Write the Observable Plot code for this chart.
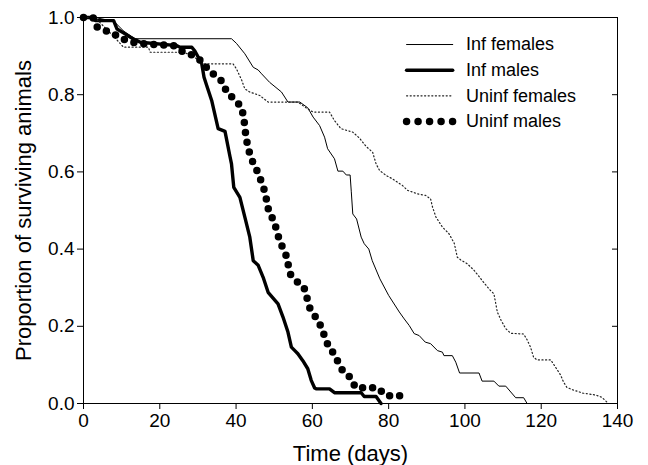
<!DOCTYPE html>
<html>
<head>
<meta charset="utf-8">
<script src="https://cdn.jsdelivr.net/npm/d3@7"></script>
<script src="https://cdn.jsdelivr.net/npm/@observablehq/plot@0.6"></script>
<style>
  html, body { margin: 0; padding: 0; background: white; }
</style>
</head>
<body>
<div id="chart"></div>
<script>
// ---- Data ----
const seriesNames = ["Inf females", "Inf males", "Uninf females", "Uninf males"];

const infFemalesDays = [0,3,8,10.5,13.5,38.8,40.1,42.3,44.5,45.8,46.7,48.8,51.9,53.6,56.7,58.8,60.2,61.9,63.2,64,65.8,66.7,68,68.9,69.9,70.2,70.6,71.6,72.8,73.6,74.8,75.7,77.7,80,82.8,84.1,85.4,86.7,88,89.6,91,92.8,94.1,94.5,96.7,97.6,98.6,103.7,104.5,107.6,108.9,110.7,113.3,115.4,116.3];
const infFemalesSurv = [1,1,0.99,0.965,0.945,0.945,0.933,0.906,0.871,0.864,0.854,0.832,0.807,0.781,0.781,0.766,0.742,0.72,0.69,0.66,0.634,0.602,0.602,0.592,0.592,0.55,0.491,0.478,0.431,0.414,0.40,0.37,0.323,0.28,0.237,0.219,0.202,0.181,0.176,0.159,0.155,0.137,0.133,0.124,0.124,0.107,0.079,0.079,0.058,0.058,0.045,0.045,0.015,0.015,0];

const infMalesDays = [0,3,3.1,7.9,8.8,11,12.3,13.6,14.9,24.5,25.3,28.4,29.2,30.1,31,31.6,32.3,33.6,35.3,37.1,38.4,38.8,39.4,41,42.3,43.6,44.5,45.8,47.1,48.4,51,52.3,53.6,54.5,55.4,56.2,57.5,58.8,59.7,60.6,61,64.5,65.8,72.8,73.6,76.7,78];
const infMalesSurv = [1,1,0.992,0.992,0.97,0.957,0.949,0.942,0.936,0.927,0.923,0.923,0.913,0.897,0.88,0.845,0.824,0.785,0.712,0.705,0.64,0.621,0.56,0.534,0.483,0.431,0.37,0.358,0.327,0.288,0.258,0.224,0.185,0.146,0.137,0.129,0.111,0.09,0.06,0.04,0.038,0.038,0.028,0.028,0.018,0.018,0];

const uninfFemalesDays = [0,3,8,10.5,17,17.5,25.3,28,31.4,39.2,40.1,41.5,42.3,43.6,46.2,48.4,56.2,58.8,60.2,64.5,65.8,67.5,70.6,72.3,74.1,75.8,76.7,77.6,79.3,81,83.6,85,87.6,89.7,91,91.5,92.4,94.1,95.8,97.2,98,98.9,100.6,102.4,104.5,106.3,107.6,108.5,109.5,110.7,112,115.4,116.3,117.2,118,118.9,122.5,123.5,125,125.9,126.7,128.1,130.9,134.3,135.9,137.2];
const uninfFemalesSurv = [1,1,0.95,0.923,0.923,0.91,0.91,0.905,0.88,0.88,0.867,0.837,0.815,0.807,0.798,0.781,0.781,0.763,0.755,0.755,0.733,0.712,0.703,0.688,0.666,0.651,0.621,0.604,0.591,0.582,0.565,0.552,0.543,0.539,0.53,0.509,0.483,0.457,0.44,0.415,0.379,0.372,0.362,0.345,0.319,0.297,0.284,0.237,0.215,0.194,0.182,0.18,0.165,0.146,0.12,0.113,0.113,0.098,0.075,0.055,0.042,0.036,0.027,0.022,0.016,0.004];

const uninfMalesDays = [0,2.5,3.6,5.7,7.9,10.1,12.7,15.3,23.6,26.2,28.8,31.4,32.7,34.5,36.6,37.5,39.7,41.4,42,42.6,43.2,44,45.4,46.5,47.5,48.1,48.6,50.1,50.7,51.7,53,53.6,54.3,55.6,57.8,58.6,59.3,60.6,62.3,63.2,64.3,65.8,66.9,68,70,71.3,77,79.5,83,85];
const uninfMalesSurv = [1,1,0.975,0.966,0.958,0.945,0.936,0.932,0.927,0.91,0.902,0.884,0.863,0.85,0.832,0.807,0.787,0.768,0.742,0.69,0.66,0.634,0.605,0.578,0.55,0.522,0.496,0.47,0.444,0.415,0.388,0.362,0.334,0.319,0.301,0.273,0.248,0.228,0.199,0.174,0.146,0.127,0.104,0.084,0.067,0.041,0.041,0.02,0.02,0.008];

const xTicks = [0, 20, 40, 60, 80, 100, 120, 140];
const yTicks = [0, 0.2, 0.4, 0.6, 0.8, 1.0];
const xLabel = "Time (days)";
const yLabel = "Proportion of surviving animals";

// ---- Build tables ----
const toRows = (days, surv) => days.map((d, i) => ({day: d, surv: surv[i]}));
const series = [
  toRows(infFemalesDays, infFemalesSurv),
  toRows(infMalesDays, infMalesSurv),
  toRows(uninfFemalesDays, uninfFemalesSurv),
  toRows(uninfMalesDays, uninfMalesSurv)
];

// Line styles per series
const lineStyles = [
  {stroke: "black", strokeWidth: 1},
  {stroke: "black", strokeWidth: 3.4},
  {stroke: "#222", strokeWidth: 1.2, strokeDasharray: "1.1 2.5"},
  {stroke: "black", strokeWidth: 7.5, strokeDasharray: "0 10", strokeLinecap: "round"}
];
const legendStyles = [
  lineStyles[0], lineStyles[1], lineStyles[2],
  {stroke: "black", strokeWidth: 7.5, strokeDasharray: "0 11.5", strokeLinecap: "round"}
];

// legend placement in data space (top-right, inside the frame)
const legX1 = 84.7, legX2 = 96.8, legTextX = 100.3;
const legTop = 0.93, legStep = 0.0665;

const marks = [
  Plot.frame({stroke: "black", strokeWidth: 1}),
  Plot.axisX({ticks: xTicks, tickSize: 6, tickPadding: 4, fontSize: 19, label: null}),
  Plot.axisY({ticks: yTicks, tickSize: 6, tickPadding: 3, fontSize: 19, label: null, tickFormat: d3.format(".1f")}),
  Plot.axisY({ticks: yTicks, anchor: "right", tickSize: 6, dx: -6, tickFormat: () => "", label: null}),
  Plot.text([xLabel], {frameAnchor: "bottom", dy: 50, text: d => d, fontSize: 22, lineAnchor: "middle"}),
  Plot.text([yLabel], {frameAnchor: "left", dx: -60, rotate: -90, text: d => d, fontSize: 22, lineAnchor: "middle", textAnchor: "middle"})
];

series.forEach((rows, i) => {
  marks.push(Plot.line(rows, {x: "day", y: "surv", ...lineStyles[i]}));
});

seriesNames.forEach((name, i) => {
  const yy = legTop - i * legStep;
  marks.push(Plot.line([{x: legX1, y: yy}, {x: legX2, y: yy}], {x: "x", y: "y", ...legendStyles[i]}));
  marks.push(Plot.text([{x: legTextX, y: yy, t: name}], {x: "x", y: "y", text: "t", textAnchor: "start", fontSize: 18, lineAnchor: "middle"}));
});

const chart = Plot.plot({
  width: 648,
  height: 465,
  marginLeft: 83,
  marginRight: 31,
  marginTop: 17,
  marginBottom: 62,
  x: {domain: [0, 140]},
  y: {domain: [0, 1]},
  style: {fontFamily: "'Liberation Sans', Arial, sans-serif", fontSize: "18px", color: "black", background: "white"},
  marks
});
document.getElementById("chart").appendChild(chart);
</script>
</body>
</html>
